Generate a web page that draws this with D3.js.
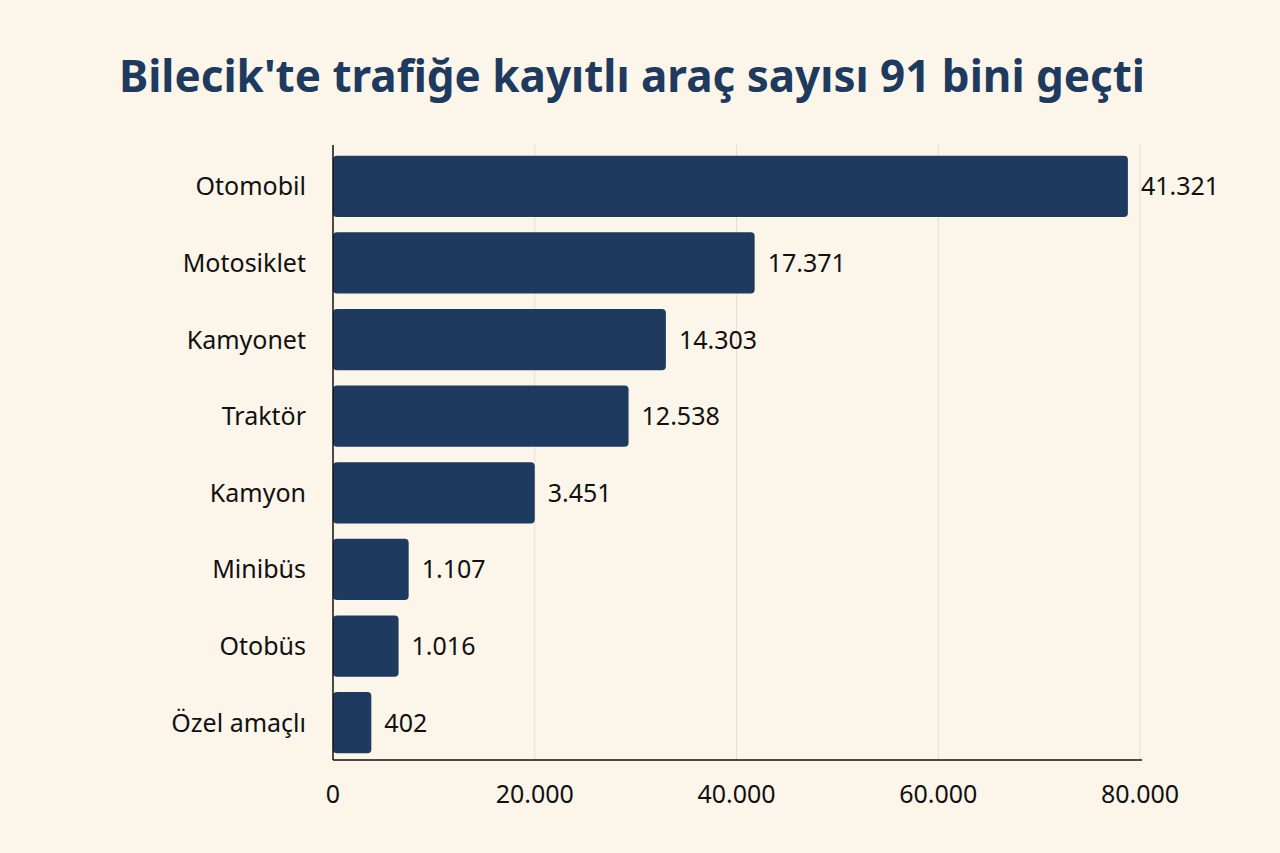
<!DOCTYPE html>
<html><head><meta charset="utf-8">
<script src="https://cdn.jsdelivr.net/npm/d3@7"></script>
<style>body{margin:0;background:#fcf6ea;}svg{display:block;font-family:"Noto Sans",sans-serif;}</style>
</head><body><svg id="c" width="1280" height="853"></svg>
<script>
const categories = ["Otomobil","Motosiklet","Kamyonet","Traktör","Kamyon","Minibüs","Otobüs","Özel amaçlı"];
// bar lengths as drawn in the picture (axis units)
const barValues = [78800, 41800, 33000, 29300, 20000, 7500, 6500, 3800];
// value labels as printed
const valueLabels = ["41.321","17.371","14.303","12.538","3.451","1.107","1.016","402"];
const tickValues = [0, 20000, 40000, 60000, 80000];
const tickLabels = ["0","20.000","40.000","60.000","80.000"];

const svg = d3.select("#c");
const W = 1280, H = 853;
svg.append("rect").attr("width",W).attr("height",H).attr("fill","#fcf6ea");
const navy = "#1f3a5f";
svg.append("text").attr("x",632).attr("y",92).attr("text-anchor","middle")
  .attr("font-size",44).attr("font-weight",700).attr("fill",navy)
  .text("Bilecik'te trafiğe kayıtlı araç sayısı 91 bini geçti");

const x = d3.scaleLinear().domain([0,80000]).range([333,1140]);
const y = d3.scaleBand().domain(categories).range([148,761]).paddingInner(0.2).paddingOuter(0.1);

svg.append("g").selectAll("line").data(tickValues.slice(1)).join("line")
  .attr("x1",d=>x(d)).attr("x2",d=>x(d)).attr("y1",145).attr("y2",760)
  .attr("stroke","#e4dfd3").attr("stroke-width",1);

svg.append("g").selectAll("rect").data(categories).join("rect")
  .attr("x",x(0)).attr("y",d=>y(d)).attr("height",y.bandwidth())
  .attr("width",(d,i)=>x(barValues[i])-x(0)).attr("rx",4).attr("fill",navy);

svg.append("g").selectAll("text").data(categories).join("text")
  .attr("x",(d,i)=>x(barValues[i])+13).attr("y",d=>y(d)+y.bandwidth()/2+9)
  .attr("font-size",25).attr("fill","#111").text((d,i)=>valueLabels[i]);

svg.append("g").selectAll("text").data(categories).join("text")
  .attr("x",306).attr("y",d=>y(d)+y.bandwidth()/2+9).attr("text-anchor","end")
  .attr("font-size",25).attr("fill","#111").text(d=>d);

svg.append("line").attr("x1",333).attr("x2",333).attr("y1",145).attr("y2",760).attr("stroke","#111").attr("stroke-width",1.5);
svg.append("line").attr("x1",333).attr("x2",1142).attr("y1",760).attr("y2",760).attr("stroke","#111").attr("stroke-width",1.5);

svg.append("g").selectAll("text").data(tickValues).join("text")
  .attr("x",d=>x(d)).attr("y",803).attr("text-anchor","middle")
  .attr("font-size",25).attr("fill","#111").text((d,i)=>tickLabels[i]);
</script></body></html>
